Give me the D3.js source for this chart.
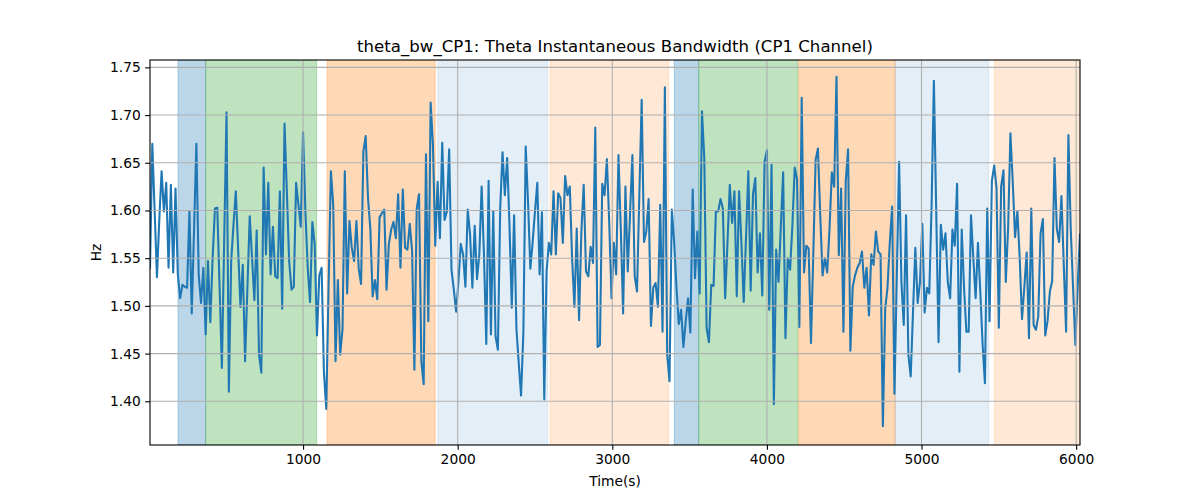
<!DOCTYPE html>
<html><head><meta charset="utf-8">
<script src="https://cdn.jsdelivr.net/npm/d3@7"></script>
<style>
html,body{margin:0;padding:0;background:#fff;}
text{font-family:"DejaVu Sans",sans-serif;fill:#000;}
</style></head>
<body><svg id="chart" width="1200" height="500"></svg>
<script>
const timeStart = 10;
const timeStep = 15;
const bandwidth = [
1.54,1.67,1.60,1.53,1.59,1.641,1.599,1.629,1.540,1.627,1.535,1.623,1.533,1.508,1.522,1.520,1.519,1.599,1.492,1.58,1.670,1.533,1.503,1.540,1.470,1.547,1.483,1.55,1.602,1.603,1.52,1.435,1.57,1.703,
1.41,1.547,1.585,1.620,1.56,1.499,1.543,1.442,1.519,1.594,1.55,1.506,1.579,1.449,1.430,1.645,1.554,1.629,1.533,1.583,1.531,1.529,1.620,1.497,1.691,1.62,1.547,1.517,1.520,1.629,1.606,1.583,1.682,1.599,1.54,
1.504,1.588,1.565,1.469,1.532,1.54,1.43,1.392,1.52,1.641,1.606,1.442,1.527,1.449,1.475,1.641,1.513,1.589,1.561,1.547,1.589,1.539,1.523,1.662,1.678,1.613,1.581,1.510,1.527,1.507,1.593,1.597,1.601,1.517,1.565,
1.58,1.588,1.571,1.617,1.540,1.622,1.561,1.559,1.586,1.558,1.433,1.602,1.617,1.442,1.418,1.659,1.484,1.713,1.669,1.563,1.630,1.571,1.671,1.590,1.599,1.664,1.538,1.517,1.494,1.526,1.565,1.554,1.52,1.601,
1.575,1.519,1.584,1.528,1.554,1.625,1.554,1.460,1.631,1.470,1.599,1.468,1.454,1.602,1.661,1.616,1.655,1.585,1.498,1.595,1.476,1.44,1.406,1.473,1.667,1.609,1.539,1.567,1.599,1.629,1.533,1.598,1.402,1.536,
1.566,1.554,1.620,1.554,1.618,1.613,1.566,1.636,1.616,1.625,1.550,1.499,1.581,1.485,1.578,1.627,1.536,1.531,1.562,1.545,1.687,1.457,1.459,1.628,1.616,1.654,1.588,1.508,1.566,1.533,1.658,1.581,1.492,1.625,1.536,
1.597,1.658,1.531,1.515,1.617,1.716,1.567,1.578,1.612,1.479,1.519,1.524,1.499,1.606,1.473,1.729,1.449,1.421,1.601,1.567,1.519,1.481,1.496,1.457,1.484,1.508,1.472,1.622,1.529,1.578,1.513,1.704,1.655,1.477,
1.462,1.522,1.521,1.599,1.599,1.612,1.602,1.508,1.566,1.627,1.587,1.620,1.510,1.620,1.567,1.504,1.572,1.641,1.516,1.617,1.634,1.535,1.576,1.511,1.651,1.663,1.496,1.648,1.397,1.559,1.525,1.583,1.640,1.466,1.550,
1.538,1.585,1.645,1.633,1.478,1.718,1.535,1.563,1.560,1.461,1.554,1.653,1.665,1.595,1.532,1.550,1.535,1.581,1.640,1.625,1.740,1.553,1.623,1.473,1.631,1.664,1.453,1.520,1.532,1.540,1.545,1.557,1.519,1.540,
1.490,1.554,1.543,1.578,1.557,1.554,1.374,1.497,1.519,1.567,1.604,1.408,1.531,1.651,1.525,1.480,1.595,1.449,1.426,1.494,1.561,1.503,1.525,1.586,1.493,1.519,1.513,1.604,1.736,1.60,1.462,1.585,1.559,1.576,1.525,
1.508,1.580,1.563,1.628,1.431,1.580,1.519,1.473,1.473,1.595,1.550,1.508,1.566,1.515,1.460,1.419,1.602,1.484,1.631,1.647,1.624,1.477,1.625,1.642,1.525,1.581,1.681,1.63,1.572,1.599,1.55,1.486,1.52,1.556,
1.466,1.602,1.480,1.475,1.489,1.576,1.591,1.469,1.484,1.515,1.526,1.655,1.581,1.567,1.615,1.543,1.473,1.679,1.581,1.52,1.459,1.52,1.575
];
const spanStart = [191, 370, 1155, 1871, 2597, 3401, 3559, 4205, 4829, 5471];
const spanEnd   = [370, 1088, 1855, 2582, 3365, 3559, 4199, 4829, 5435, 6040];
const spanKind  = ["blue","green","orange","lightblue","lightorange","blue","green","orange","lightblue","lightorange"];
const xTicks = [1000, 2000, 3000, 4000, 5000, 6000];
const yTicks = [1.40, 1.45, 1.50, 1.55, 1.60, 1.65, 1.70, 1.75];
const titleText = "theta_bw_CP1: Theta Instantaneous Bandwidth (CP1 Channel)";
const xLabel = "Time(s)";
const yLabel = "Hz";

const times = bandwidth.map((v, i) => timeStart + i * timeStep);
const data = bandwidth.map((v, i) => ({t: times[i], v}));

const kindStyle = {
  blue: {c: "#1f77b4", a: 0.3},
  green: {c: "#2ca02c", a: 0.3},
  orange: {c: "#ff7f0e", a: 0.3},
  lightblue: {c: "#1f77b4", a: 0.12},
  lightorange: {c: "#ff7f0e", a: 0.17}
};

const L = 150, R = 1080, T = 60, B = 445;
const svg = d3.select("#chart");
const x = d3.scaleLinear().domain([times[0], times[times.length - 1]]).range([L, R]);
const y = d3.scaleLinear().domain([1.3542, 1.7577]).range([B, T]);

svg.append("defs").append("clipPath").attr("id", "clip")
  .append("rect").attr("x", L).attr("y", T).attr("width", R - L).attr("height", B - T);

const plot = svg.append("g").attr("clip-path", "url(#clip)");
spanStart.forEach((s, i) => {
  const st = kindStyle[spanKind[i]];
  plot.append("rect")
    .attr("x", x(s)).attr("y", T)
    .attr("width", x(spanEnd[i]) - x(s)).attr("height", B - T)
    .attr("fill", st.c).attr("fill-opacity", st.a)
    .attr("stroke", st.c).attr("stroke-opacity", st.a).attr("stroke-width", 1);
});

// grid
const grid = svg.append("g");
xTicks.forEach(t => grid.append("line").attr("x1", x(t)).attr("x2", x(t)).attr("y1", T).attr("y2", B)
  .attr("stroke", "#b0b0b0").attr("stroke-width", 1.1));
yTicks.forEach(t => grid.append("line").attr("x1", L).attr("x2", R).attr("y1", y(t)).attr("y2", y(t))
  .attr("stroke", "#b0b0b0").attr("stroke-width", 1.1));

const line = d3.line().x(d => x(d.t)).y(d => y(d.v));
plot.append("path").datum(data).attr("d", line)
  .attr("fill", "none").attr("stroke", "#1f77b4").attr("stroke-width", 2.08)
  .attr("stroke-linejoin", "round").attr("stroke-linecap", "square");

// axes
const xAxis = d3.axisBottom(x).tickValues(xTicks).tickSize(4.86).tickPadding(4.4).tickFormat(d3.format("d"));
const yAxis = d3.axisLeft(y).tickValues(yTicks).tickSize(4.86).tickPadding(4.4).tickFormat(d3.format(".2f"));
const gx = svg.append("g").attr("transform", `translate(0,${B})`).call(xAxis);
const gy = svg.append("g").attr("transform", `translate(${L},0)`).call(yAxis);
[gx, gy].forEach(g => {
  g.select(".domain").remove();
  g.selectAll("line").attr("stroke", "#000").attr("stroke-width", 1.1);
  g.selectAll("text").style("font-size", "13.8px").style("font-family", "DejaVu Sans");
});

// frame
svg.append("rect").attr("x", L).attr("y", T).attr("width", R - L).attr("height", B - T)
  .attr("fill", "none").attr("stroke", "#000").attr("stroke-width", 1.1);

svg.append("text").attr("x", (L + R) / 2).attr("y", 52).attr("text-anchor", "middle")
  .style("font-size", "16.6px").text(titleText);
svg.append("text").attr("x", (L + R) / 2).attr("y", 486).attr("text-anchor", "middle")
  .style("font-size", "13.8px").text(xLabel);
svg.append("text").attr("transform", `translate(101,${(T + B) / 2}) rotate(-90)`).attr("text-anchor", "middle")
  .style("font-size", "13.8px").text(yLabel);
</script></body></html>
